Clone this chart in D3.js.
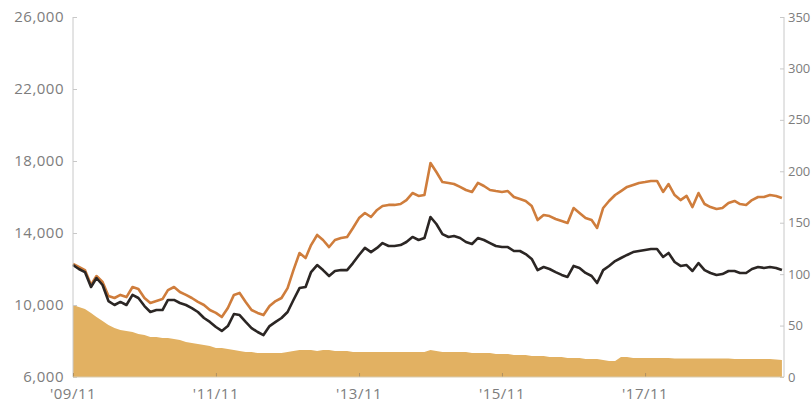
<!DOCTYPE html>
<html lang="ja">
  <head>
    <meta charset="utf-8"/>
    <title>Index Chart</title>
    <style>
      body{
        margin: 0;
        background-color: white;
      }
      svg{
        display: block;
        overflow: hidden;
      }
      .tick_label{
        font-family: "Open Sans", "Noto Sans", sans-serif;
        font-size: 15px;
        letter-spacing: 0.5px;
        fill: #7d7d7d;
      }
      .right_label{
        font-size: 13px;
        letter-spacing: 0px;
      }
    </style>
  </head>
  <body>
    <div id="main">
      <svg id="chart_svg"></svg>
    </div>

    <script src="https://d3js.org/d3.v7.min.js"></script>

    <script type="text/javascript">
      const width = 812;
      const height = 409;
      const left = 73;
      const right = 784;
      const top_y = 17;
      const bottom_y = 377;

      // monthly, first value = 2009/11
      const start_month = "2009-11-01";

      const orange_values = [
        12280, 12110, 11940, 11110, 11610, 11280, 10500, 10390, 10560, 10440,
        11000, 10890, 10390, 10110, 10220, 10330, 10830, 11000, 10720, 10560,
        10390, 10170, 10000, 9720, 9560, 9330, 9830, 10560, 10670, 10170,
        9720, 9560, 9440, 9940, 10220, 10390, 10940, 11940, 12890, 12610,
        13330, 13890, 13610, 13220, 13610, 13720, 13780, 14280, 14830, 15110,
        14890, 15280, 15500, 15560, 15560, 15610, 15830, 16220, 16060, 16110,
        17890, 17390, 16830, 16780, 16720, 16560, 16390, 16280, 16780, 16610,
        16390, 16330, 16280, 16330, 16000, 15890, 15780, 15500, 14720, 15000,
        14940, 14780, 14670, 14560, 15390, 15110, 14830, 14720, 14280, 15390,
        15780, 16110, 16330, 16560, 16670, 16780, 16830, 16890, 16890, 16280,
        16720, 16110, 15830, 16060, 15440, 16220, 15610, 15440, 15330, 15390,
        15670, 15780, 15610, 15560, 15830, 16000, 16000, 16110, 16060, 15940
      ];

      const black_values = [
        12220, 12000, 11830, 11000, 11500, 11110, 10220, 10000, 10170, 10000,
        10560, 10390, 9940, 9610, 9720, 9720, 10280, 10280, 10110, 10000,
        9830, 9610, 9280, 9060, 8780, 8560, 8830, 9500, 9440, 9060,
        8720, 8500, 8330, 8830, 9060, 9280, 9610, 10280, 10940, 11000,
        11830, 12220, 11940, 11610, 11890, 11940, 11940, 12330, 12780, 13170,
        12940, 13170, 13440, 13280, 13280, 13330, 13500, 13780, 13610, 13720,
        14890, 14500, 13940, 13780, 13830, 13720, 13500, 13390, 13720, 13610,
        13440, 13280, 13220, 13220, 13000, 13000, 12830, 12560, 11940, 12110,
        12000, 11830, 11670, 11560, 12170, 12060, 11780, 11610, 11220, 11940,
        12170, 12440, 12610, 12780, 12940, 13000, 13060, 13110, 13110, 12670,
        12890, 12390, 12170, 12220, 11890, 12330, 11940, 11780, 11670, 11720,
        11890, 11890, 11780, 11780, 12000, 12110, 12060, 12110, 12060, 11940
      ];

      // right axis
      const area_values = [
        70.0, 68.1, 66.1, 62.2, 58.3, 54.4, 50.6, 47.6, 45.7, 44.7,
        43.7, 41.8, 40.8, 38.9, 38.9, 37.9, 37.9, 36.9, 36.0, 34.0,
        33.1, 32.1, 31.1, 30.1, 28.2, 28.2, 27.2, 26.2, 25.3, 24.3,
        24.3, 23.3, 23.3, 23.3, 23.3, 23.3, 24.3, 25.3, 26.2, 26.2,
        26.2, 25.3, 26.2, 26.2, 25.3, 25.3, 25.3, 24.3, 24.3, 24.3,
        24.3, 24.3, 24.3, 24.3, 24.3, 24.3, 24.3, 24.3, 24.3, 24.3,
        26.2, 25.3, 24.3, 24.3, 24.3, 24.3, 24.3, 23.3, 23.3, 23.3,
        23.3, 22.4, 22.4, 22.4, 21.4, 21.4, 21.4, 20.4, 20.4, 20.4,
        19.4, 19.4, 19.4, 18.5, 18.5, 18.5, 17.5, 17.5, 17.5, 16.5,
        15.6, 15.6, 19.4, 19.4, 18.5, 18.5, 18.5, 18.5, 18.5, 18.5,
        18.5, 18.0, 18.0, 18.0, 18.0, 18.0, 18.0, 18.0, 18.0, 18.0,
        18.0, 17.5, 17.5, 17.5, 17.5, 17.5, 17.5, 17.5, 17.0, 16.5
      ];

      const left_ticks = [6000, 10000, 14000, 18000, 22000, 26000];
      const right_ticks = [0, 50, 100, 150, 200, 250, 300, 350];
      const x_ticks = ["2009-11-01", "2011-11-01", "2013-11-01", "2015-11-01", "2017-11-01"];
      const x_tick_labels = ["'09/11", "'11/11", "'13/11", "'15/11", "'17/11"];

      const parse = d3.timeParse("%Y-%m-%d");
      const start = parse(start_month);

      let svg = d3.select("#chart_svg")
        .attr("width", width)
        .attr("height", height);

      let x_scale = d3.scaleTime()
        .domain([start, parse("2019-11-01")])
        .range([left, 788]);
      let y_left = d3.scaleLinear().domain([6000, 26000]).range([bottom_y, top_y]);
      let y_right = d3.scaleLinear().domain([0, 350]).range([bottom_y, top_y]);

      function toPoints(values) {
        return values.map(function(v, i) {
          return { date: d3.timeMonth.offset(start, i), value: v };
        });
      }

      // area
      let area = d3.area()
        .x(function(d) { return x_scale(d.date); })
        .y0(y_right(0))
        .y1(function(d) { return y_right(d.value); });

      svg.append("path")
        .datum(toPoints(area_values))
        .attr("fill", "#e2b162")
        .attr("d", area);

      let line = d3.line()
        .x(function(d) { return x_scale(d.date); })
        .y(function(d) { return y_left(d.value); });

      svg.append("path")
        .datum(toPoints(orange_values))
        .attr("fill", "none")
        .attr("stroke", "#cf7d3c")
        .attr("stroke-width", 2.6)
        .attr("stroke-linejoin", "round")
        .attr("d", line);

      svg.append("path")
        .datum(toPoints(black_values))
        .attr("fill", "none")
        .attr("stroke", "#2b2624")
        .attr("stroke-width", 2.6)
        .attr("stroke-linejoin", "round")
        .attr("d", line);

      // left axis
      let left_axis = svg.append("g")
        .attr("transform", "translate(" + left + ",0)")
        .call(d3.axisRight(y_left).tickValues(left_ticks).tickSize(4).tickFormat(""));
      left_axis.select(".domain").remove();
      left_axis.append("line")
        .attr("y1", top_y).attr("y2", bottom_y)
        .attr("stroke", "#c8c8c8");
      left_axis.selectAll(".tick line").attr("stroke", "#c8c8c8");

      svg.selectAll(".left_label")
        .data(left_ticks)
        .enter().append("text")
          .attr("class", "tick_label")
          .attr("x", left - 9)
          .attr("y", function(d) { return y_left(d); })
          .attr("dy", "0.35em")
          .attr("text-anchor", "end")
          .text(d3.format(","));

      // right axis
      let right_axis = svg.append("g")
        .attr("transform", "translate(" + right + ",0)")
        .call(d3.axisLeft(y_right).tickValues(right_ticks).tickSize(4).tickFormat(""));
      right_axis.select(".domain").remove();
      right_axis.append("line")
        .attr("y1", top_y).attr("y2", bottom_y)
        .attr("stroke", "#c8c8c8");
      right_axis.selectAll(".tick line").attr("stroke", "#c8c8c8");

      svg.selectAll(".right_label")
        .data(right_ticks)
        .enter().append("text")
          .attr("class", "tick_label right_label")
          .attr("x", right + 4)
          .attr("y", function(d) { return y_right(d); })
          .attr("dy", "0.35em")
          .attr("text-anchor", "start")
          .text(function(d) { return d; });

      // bottom axis
      let bottom_axis = svg.append("g")
        .attr("transform", "translate(0," + bottom_y + ")")
        .call(d3.axisTop(x_scale).tickValues(x_ticks.map(parse)).tickSize(4).tickFormat(""));
      bottom_axis.select(".domain").remove();
      bottom_axis.append("line")
        .attr("x1", left).attr("x2", right)
        .attr("stroke", "#d8cbb0");
      bottom_axis.selectAll(".tick line").attr("stroke", "#b09060");

      svg.selectAll(".x_label")
        .data(x_ticks)
        .enter().append("text")
          .attr("class", "tick_label")
          .attr("x", function(d) { return x_scale(parse(d)); })
          .attr("y", 394)
          .attr("dy", "0.35em")
          .attr("text-anchor", "middle")
          .text(function(d, i) { return x_tick_labels[i]; });
    </script>
  </body>
</html>
